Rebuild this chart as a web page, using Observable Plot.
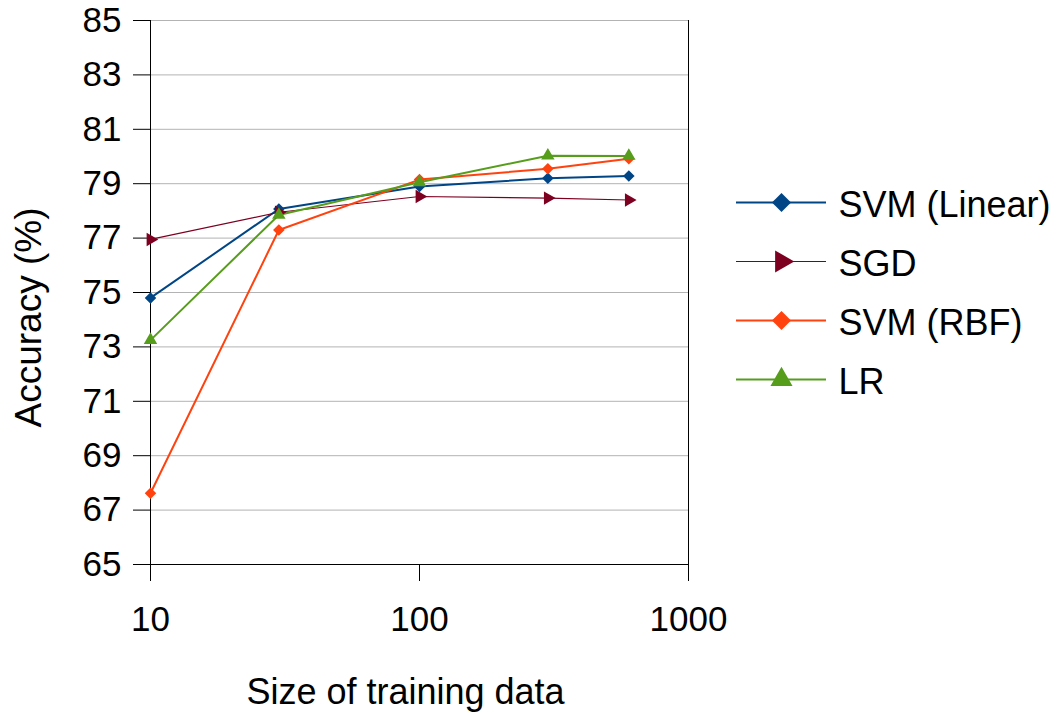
<!DOCTYPE html>
<html><head><meta charset="utf-8">
<script src="https://cdn.jsdelivr.net/npm/d3@7"></script>
<script src="https://cdn.jsdelivr.net/npm/@observablehq/plot@0.6"></script>
<style>
html,body{margin:0;padding:0;background:#fff;}
#wrap{position:relative;width:1058px;height:713px;overflow:hidden;}
#legend{position:absolute;left:720px;top:170px;}
</style></head><body><div id="wrap"><div id="chart"></div><div id="legend"></div></div>
<script>
// ---- data ----
const sizes = [10, 30, 100, 300, 600];
const seriesNames = ["SVM (Linear)", "SGD", "SVM (RBF)", "LR"];
const svmLinear = [74.8, 78.07, 78.9, 79.2, 79.28];
const sgd = [76.95, 77.95, 78.53, 78.47, 78.4];
const svmRbf = [67.62, 77.3, 79.15, 79.55, 79.92];
const lr = [73.25, 77.85, 79.05, 80.03, 80.02];
const yTicks = [65, 67, 69, 71, 73, 75, 77, 79, 81, 83, 85];
const xTicks = [10, 100, 1000];
const yTitle = "Accuracy (%)";
const xTitle = "Size of training data";

// ---- styles ----
const colors = ["#004586", "#7e0021", "#ff420e", "#579d1c"];
const styles = [
  {symbol: "diamond2", rotate: 0, r: 5.2, lr: 8.6, sw: 2},
  {symbol: "triangle", rotate: 90, r: 5, lr: 8.2, sw: 1.2},
  {symbol: "diamond2", rotate: 0, r: 5.2, lr: 8.6, sw: 2},
  {symbol: "triangle", rotate: 0, r: 5, lr: 8.2, sw: 2}
];
const font = "'Liberation Sans', Arial, sans-serif";

const allValues = [svmLinear, sgd, svmRbf, lr];
const rows = [];
allValues.forEach((vals, i) => vals.forEach((v, j) => rows.push({series: seriesNames[i], size: sizes[j], acc: v})));

const colorScale = {domain: seriesNames, range: colors};

const lineMarks = seriesNames.map((name, i) =>
  Plot.line(rows.filter(d => d.series === name), {x: "size", y: "acc", stroke: "series", strokeWidth: styles[i].sw}));
const dotMarks = seriesNames.map((name, i) =>
  Plot.dot(rows.filter(d => d.series === name), {x: "size", y: "acc", fill: "series", symbol: styles[i].symbol, r: styles[i].r, rotate: styles[i].rotate, stroke: "none"}));

const chart = Plot.plot({
  width: 1058, height: 713,
  marginLeft: 150, marginRight: 370, marginTop: 20, marginBottom: 149,
  style: {fontFamily: font, fontSize: "35px", background: "#fff", color: "#000"},
  x: {type: "log", domain: [10, 1000]},
  y: {domain: [65, 85]},
  color: colorScale,
  marks: [
    Plot.gridY(yTicks, {stroke: "#b3b3b3", strokeOpacity: 1}),
    Plot.axisY(yTicks, {tickSize: 17, tickPadding: 12, label: null, fontSize: 35}),
    Plot.axisX(xTicks, {tickSize: 17, tickPadding: 25, tickFormat: d => String(d), label: null, fontSize: 35}),
    Plot.ruleX([10], {stroke: "#000"}),
    Plot.ruleX([1000], {stroke: "#000"}),
    Plot.ruleY([65], {stroke: "#000"}),
    ...lineMarks,
    ...dotMarks,
    Plot.text([yTitle], {frameAnchor: "left", textAnchor: "middle", dx: -121, dy: 25, rotate: -90, fontSize: 37, lineAnchor: "middle"}),
    Plot.text([xTitle], {frameAnchor: "bottom", textAnchor: "middle", dx: -14, dy: 139, lineAnchor: "bottom", fontSize: 36})
  ]
});
document.getElementById("chart").appendChild(chart);

const legend = Plot.plot({
  width: 338, height: 240, margin: 0,
  style: {fontFamily: font, fontSize: "35px", background: "transparent", color: "#000"},
  x: {domain: [0, 1], range: [16, 106], axis: null},
  y: {type: "point", domain: seriesNames, range: [31, 209], padding: 0, axis: null},
  color: colorScale,
  marks: [
    ...seriesNames.map((name, i) => Plot.ruleY([name], {x1: 0, x2: 1, y: d => d, stroke: d => d, strokeWidth: styles[i].sw})),
    ...seriesNames.map((name, i) => Plot.dot([name], {x: 0.5, y: d => d, fill: d => d, symbol: styles[i].symbol, r: styles[i].lr, rotate: styles[i].rotate, stroke: "none"})),
    Plot.text(seriesNames, {x: 1, y: d => d, dx: 12, dy: 3, textAnchor: "start", lineAnchor: "middle", fontSize: 36})
  ]
});
document.getElementById("legend").appendChild(legend);
</script></body></html>
